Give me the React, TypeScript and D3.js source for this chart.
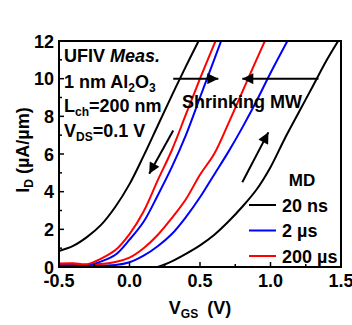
import React from "react";
import * as d3 from "d3";

// ---- data (V_GS in V, I_D in µA/µm) ----
const blackBackX = [-0.5, -0.4, -0.3, -0.2, -0.1, 0.0, 0.1, 0.2, 0.3, 0.4, 0.49];
const blackBackY = [0.85, 1.12, 1.6, 2.25, 3.2, 4.4, 5.9, 7.5, 9.1, 10.65, 12.0];
const blackFwdX = [0.2, 0.3, 0.4, 0.5, 0.6, 0.7, 0.8, 0.9, 1.0, 1.1, 1.2, 1.3, 1.4, 1.48];
const blackFwdY = [0.0, 0.3, 0.7, 1.15, 1.7, 2.4, 3.2, 4.1, 5.3, 6.8, 8.2, 9.6, 11.0, 12.0];
const redBackX = [-0.5, -0.4, -0.3, -0.2, -0.1, 0.0, 0.1, 0.2, 0.3, 0.4, 0.5, 0.61];
const redBackY = [0.18, 0.2, 0.15, 0.45, 0.9, 1.75, 2.95, 4.6, 6.2, 8.1, 10.0, 12.0];
const blueBackX = [-0.5, -0.4, -0.3, -0.2, -0.1, 0.0, 0.1, 0.2, 0.3, 0.4, 0.5, 0.6, 0.65];
const blueBackY = [0.08, 0.08, 0.08, 0.3, 0.65, 1.45, 2.4, 3.8, 5.3, 7.0, 9.0, 11.0, 12.0];
const redFwdX = [-0.5, -0.3, -0.1, 0.0, 0.1, 0.2, 0.3, 0.4, 0.5, 0.6, 0.7, 0.8, 0.9, 0.96];
const redFwdY = [0.12, 0.12, 0.27, 0.5, 1.0, 1.7, 2.6, 3.6, 4.9, 6.0, 7.6, 9.3, 11.0, 12.0];
const blueFwdX = [-0.5, -0.2, -0.1, 0.0, 0.1, 0.2, 0.3, 0.4, 0.5, 0.6, 0.7, 0.8, 0.9, 1.0, 1.12];
const blueFwdY = [0.08, 0.08, 0.1, 0.25, 0.6, 1.1, 1.75, 2.65, 3.7, 4.9, 6.1, 7.4, 8.8, 10.3, 12.0];

const xTicks = [-0.5, 0.0, 0.5, 1.0, 1.5];
const xTickLabels = ["-0.5", "0.0", "0.5", "1.0", "1.5"];
const xMinorTicks = [-0.25, 0.25, 0.75, 1.25];
const yTicks = [0, 2, 4, 6, 8, 10, 12];
const yMinorTicks = [1, 3, 5, 7, 9, 11];

const legendLabels = ["20 ns", "2 µs", "200 µs"];
const legendColors = ["#000000", "#0000ff", "#ff0000"];

const W = 352;
const H = 325;
const L = 59, R = 341, T = 41, B = 267;
const FONT = "'Liberation Sans', Arial, Helvetica, sans-serif";

export default function App() {
  const x = d3.scaleLinear().domain([-0.5, 1.5]).range([L, R]);
  const y = d3.scaleLinear().domain([0, 12]).range([B, T]);
  const line = d3
    .line<[number, number]>()
    .x((d) => x(d[0]))
    .y((d) => y(d[1]))
    .curve(d3.curveCatmullRom.alpha(0.5));
  const pts = (xs: number[], ys: number[]) => xs.map((v, i) => [v, ys[i]] as [number, number]);

  const series = [
    { xs: blackBackX, ys: blackBackY, c: "#000000" },
    { xs: blackFwdX, ys: blackFwdY, c: "#000000" },
    { xs: blueFwdX, ys: blueFwdY, c: "#0000ff" },
    { xs: redFwdX, ys: redFwdY, c: "#ff0000" },
    { xs: blueBackX, ys: blueBackY, c: "#0000ff" },
    { xs: redBackX, ys: redBackY, c: "#ff0000" },
  ];

  const arrows = [
    { x1: 0.31, y1: 10.0, x2: 0.63, y2: 10.0 },
    { x1: 1.34, y1: 10.0, x2: 0.8, y2: 10.0 },
    { x1: 0.31, y1: 7.25, x2: 0.14, y2: 4.95 },
    { x1: 0.8, y1: 4.5, x2: 0.985, y2: 7.15 },
  ];

  const sub = { fontSize: 12, baselineShift: "-4" } as any;

  return (
    <svg
      width={W}
      height={H}
      style={{ position: "absolute", left: 0, top: 0, background: "#fff" }}
      fontFamily={FONT}
      fontWeight="bold"
    >
      <defs>
        <clipPath id="plotclip">
          <rect x={L} y={T} width={R - L} height={B - T} />
        </clipPath>
        <marker id="ah" viewBox="0 0 10 10" refX="10" refY="5" markerWidth="7.5" markerHeight="5.5" markerUnits="strokeWidth" orient="auto">
          <path d="M0,0 L10,5 L0,10 z" fill="#000" />
        </marker>
      </defs>

      <g clipPath="url(#plotclip)">
        {series.map((s, i) => (
          <path key={i} d={line(pts(s.xs, s.ys)) || ""} fill="none" stroke={s.c} strokeWidth={2} />
        ))}
      </g>

      {/* frame */}
      <rect x={L} y={T} width={R - L} height={B - T} fill="none" stroke="#000" strokeWidth={2} />

      {/* x ticks */}
      {xTicks.map((t, i) => (
        <g key={"xt" + i}>
          <line x1={x(t)} x2={x(t)} y1={B} y2={B - 5} stroke="#000" strokeWidth={1.5} />
          <text x={x(t)} y={287} textAnchor="middle" fontSize={18}>
            {xTickLabels[i]}
          </text>
        </g>
      ))}
      {xMinorTicks.map((t, i) => (
        <line key={"xm" + i} x1={x(t)} x2={x(t)} y1={B} y2={B - 3} stroke="#000" strokeWidth={1.5} />
      ))}
      {/* y ticks */}
      {yTicks.map((t, i) => (
        <g key={"yt" + i}>
          <line x1={L} x2={L + 5} y1={y(t)} y2={y(t)} stroke="#000" strokeWidth={1.5} />
          <text x={54} y={y(t) + 6.5} textAnchor="end" fontSize={18}>
            {t}
          </text>
        </g>
      ))}
      {yMinorTicks.map((t, i) => (
        <line key={"ym" + i} x1={L} x2={L + 3} y1={y(t)} y2={y(t)} stroke="#000" strokeWidth={1.5} />
      ))}

      {/* axis titles */}
      <text x={200} y={314} textAnchor="middle" fontSize={18}>
        V<tspan style={sub}>GS</tspan>
        <tspan dx={4}> (V)</tspan>
      </text>
      <text transform="translate(29,150) rotate(-90)" textAnchor="middle" fontSize={18}>
        I<tspan style={sub}>D</tspan>
        <tspan> (µA/µm)</tspan>
      </text>

      {/* annotations */}
      <text x={64} y={62} fontSize={18}>
        UFIV <tspan fontStyle="italic">Meas.</tspan>
      </text>
      <text x={64} y={88} fontSize={18}>
        1 nm Al<tspan style={sub}>2</tspan>
        <tspan>O</tspan>
        <tspan style={sub}>3</tspan>
      </text>
      <text x={64} y={112} fontSize={18}>
        L<tspan style={sub}>ch</tspan>
        <tspan>=200 nm</tspan>
      </text>
      <text x={64} y={137} fontSize={18}>
        V<tspan style={sub}>DS</tspan>
        <tspan>=0.1 V</tspan>
      </text>
      <text x={182} y={108} fontSize={18}>
        Shrinking MW
      </text>

      {arrows.map((a, i) => (
        <line
          key={"ar" + i}
          x1={x(a.x1)}
          y1={y(a.y1)}
          x2={x(a.x2)}
          y2={y(a.y2)}
          stroke="#000"
          strokeWidth={2}
          markerEnd="url(#ah)"
        />
      ))}

      {/* legend */}
      <text x={302} y={186} textAnchor="middle" fontSize={17}>
        MD
      </text>
      {legendLabels.map((lab, i) => (
        <g key={"lg" + i}>
          <line x1={249} x2={276} y1={205 + i * 25.5} y2={205 + i * 25.5} stroke={legendColors[i]} strokeWidth={2} />
          <text x={282} y={211.5 + i * 25.5} fontSize={18}>
            {lab}
          </text>
        </g>
      ))}
    </svg>
  );
}
